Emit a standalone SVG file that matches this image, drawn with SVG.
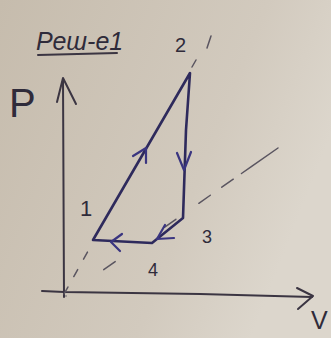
<svg xmlns="http://www.w3.org/2000/svg" width="331" height="338" viewBox="0 0 331 338">
<defs>
<linearGradient id="bg" x1="0" y1="0" x2="1" y2="0.4">
<stop offset="0" stop-color="#c6bcad"/>
<stop offset="0.7" stop-color="#d2cabe"/>
<stop offset="1" stop-color="#dcd6cc"/>
</linearGradient>
<style>
.ax{fill:none;stroke:#3b3542;stroke-width:2;stroke-linecap:round;stroke-linejoin:round}
.cy{fill:none;stroke:#2e2a5c;stroke-width:2.6;stroke-linecap:round;stroke-linejoin:round}
.ah{fill:none;stroke:#3a3580;stroke-width:2.2;stroke-linecap:round;stroke-linejoin:round}
.ds{fill:none;stroke:#5a5560;stroke-width:1.5;stroke-linecap:round}
.lb{font-family:"Liberation Sans",Arial,sans-serif;fill:#2f2b3a}
</style>
</defs>
<rect width="331" height="338" fill="url(#bg)"/>
<g id="title">
<text class="lb" x="36" y="50" font-size="25" font-style="italic" fill="#231f2a">Реш-е1</text>
<path class="ax" d="M38,55 L117,53" stroke-width="1.8"/>
</g>
<g id="axes">
<path class="ax" d="M64,297 L63,79"/>
<path class="ax" d="M57,102 L63,78 L76,104"/>
<path class="ax" d="M42,291 L64,292 L200,294 L312,297"/>
<path class="ax" d="M297,288 L313,296 L298,309"/>
<text class="lb" x="9" y="117" font-size="40" font-weight="300">P</text>
<text class="lb" x="311" y="329" font-size="25">V</text>
</g>
<g id="dashed">
<path class="ds" d="M64,294 L92,244" stroke-dasharray="8 12"/>
<path class="ds" d="M66,296 L278,148" stroke-dasharray="0 46 14 60 14 28 14 14 14 10 12"/>
<path class="ds" d="M192,67 L196,60 M207,48 L211,36"/>
</g>
<g id="cycle">
<path class="cy" d="M93,240 L190,73 L186,130 L183,218 L152,243 L93,240"/>
<path class="ah" d="M133,156 L146,148 L146,163"/>
<path class="ah" d="M177,153 L184,170 L191,152"/>
<path class="ah" d="M165,225 L157,239 L174,238"/>
<path class="ah" d="M122,234 L111,242 L120,251"/>
</g>
<g id="labels">
<text class="lb" x="175" y="52" font-size="20">2</text>
<text class="lb" x="80" y="216" font-size="22">1</text>
<text class="lb" x="202" y="243" font-size="18">3</text>
<text class="lb" x="148" y="276" font-size="18">4</text>
</g>
</svg>
